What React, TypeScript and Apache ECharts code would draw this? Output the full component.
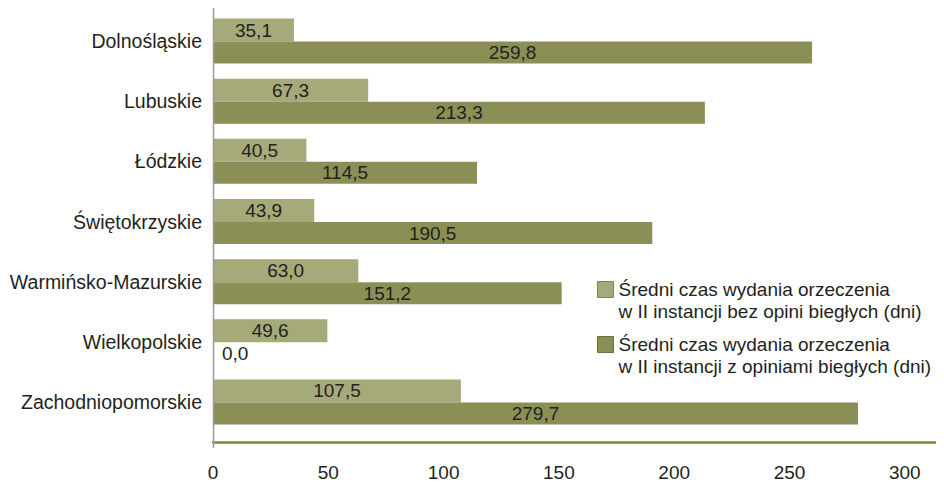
import React, { useEffect, useRef } from "react";
import * as echarts from "echarts";

const categories = [
  "Dolnośląskie",
  "Lubuskie",
  "Łódzkie",
  "Świętokrzyskie",
  "Warmińsko-Mazurskie",
  "Wielkopolskie",
  "Zachodniopomorskie",
];

const seriesNames = [
  "Średni czas wydania orzeczenia\nw II instancji bez opini biegłych (dni)",
  "Średni czas wydania orzeczenia\nw II instancji z opiniami biegłych (dni)",
];

const withoutExperts = [35.1, 67.3, 40.5, 43.9, 63.0, 49.6, 107.5];
const withExperts = [259.8, 213.3, 114.5, 190.5, 151.2, 0.0, 279.7];

const xTicks = { min: 0, max: 317, interval: 50 };

const FONT = "'Liberation Sans', Arial, Helvetica, sans-serif";
const TEXT = "#231f20";
const LIGHT = "#a6a97a";
const DARK = "#8b8f55";

const fmt = (v: number) => v.toFixed(1).replace(".", ",");

// Legend entry: a blank spacer line first so that the icon lines up with the first text line.
const legendFormatter = (name: string) =>
  "{sp| }\n" + name.split("\n").map((l) => `{t|${l}}`).join("\n");

const legendText = {
  fontFamily: FONT,
  fontSize: 19,
  color: TEXT,
  rich: {
    sp: { fontSize: 19, lineHeight: 22, fontFamily: FONT },
    t: { fontSize: 19, lineHeight: 22, color: TEXT, fontFamily: FONT },
  },
};

export default function App() {
  const ref = useRef<HTMLDivElement>(null);

  useEffect(() => {
    if (!ref.current) return;
    const chart = echarts.init(ref.current, undefined, { renderer: "svg" });

    chart.setOption({
      animation: false,
      textStyle: { fontFamily: FONT },
      grid: { left: 213, right: 0, top: 11, bottom: 51, containLabel: false },
      legend: [
        {
          data: [seriesNames[0]],
          left: 597,
          top: 258,
          padding: 0,
          icon: "rect",
          itemWidth: 16,
          itemHeight: 16,
          itemStyle: { borderColor: "#7f8355", borderWidth: 1 },
          formatter: legendFormatter,
          textStyle: legendText,
        },
        {
          data: [seriesNames[1]],
          left: 597,
          top: 313,
          padding: 0,
          icon: "rect",
          itemWidth: 16,
          itemHeight: 16,
          itemStyle: { borderColor: "#6c7040", borderWidth: 1 },
          formatter: legendFormatter,
          textStyle: legendText,
        },
      ],
      xAxis: {
        type: "value",
        min: xTicks.min,
        max: xTicks.max,
        interval: xTicks.interval,
        offset: 10,
        axisLine: { show: true, lineStyle: { color: "#7d8a3c", width: 2.5 } },
        axisTick: { show: false },
        splitLine: { show: false },
        axisLabel: {
          showMaxLabel: false,
          fontSize: 19,
          color: TEXT,
          fontFamily: FONT,
          margin: 21,
        },
      },
      yAxis: {
        type: "category",
        inverse: true,
        data: categories,
        axisLine: { show: false },
        axisTick: { show: false },
        axisLabel: { fontSize: 19.5, color: TEXT, fontFamily: FONT, margin: 11 },
      },
      graphic: [
        {
          type: "line",
          z: 100,
          shape: { x1: 213.5, y1: 8, x2: 213.5, y2: 448 },
          style: { stroke: "#9a9a9a", lineWidth: 1.5 },
        },
      ],
      series: [
        {
          name: seriesNames[0],
          type: "bar",
          data: withoutExperts,
          barWidth: 23,
          barGap: "0%",
          itemStyle: { color: LIGHT },
          label: {
            show: true,
            position: "inside",
            color: TEXT,
            fontSize: 19,
            fontFamily: FONT,
            formatter: (p: any) => fmt(p.value),
          },
        },
        {
          name: seriesNames[1],
          type: "bar",
          data: withExperts.map((v) =>
            v === 0 ? { value: v, label: { position: "right", distance: 9 } } : v
          ),
          barWidth: 22,
          barGap: "0%",
          itemStyle: { color: DARK },
          label: {
            show: true,
            position: "inside",
            color: TEXT,
            fontSize: 19,
            fontFamily: FONT,
            formatter: (p: any) => fmt(p.value),
          },
        },
      ],
    });

    return () => chart.dispose();
  }, []);

  return <div ref={ref} style={{ width: 944, height: 483, marginLeft: -8, marginTop: -8 }} />;
}
